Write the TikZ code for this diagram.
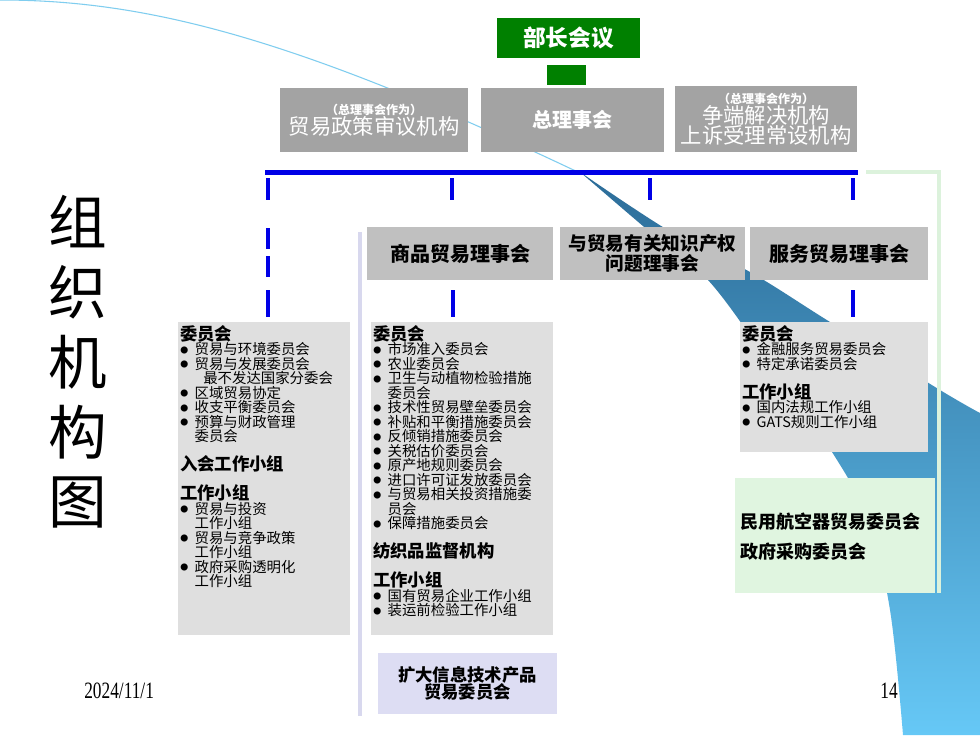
\documentclass[tikz,border=0pt]{standalone}
\usepackage{fontspec}
\usepackage{graphicx}
\setmainfont{Liberation Serif}
\newfontfamily\cjk{Noto Sans CJK SC}
\definecolor{mgreen}{HTML}{008000}
\definecolor{gA}{HTML}{A3A3A3}
\definecolor{gB}{HTML}{C0C0C0}
\definecolor{gC}{HTML}{DFDFDF}
\definecolor{lgreen}{HTML}{E0F5E0}
\definecolor{lav}{HTML}{DDDDF3}
\definecolor{lblue}{HTML}{0000E6}
\definecolor{fgreen}{HTML}{DCF2DC}
\definecolor{lavline}{HTML}{D8D8EE}
\definecolor{thinc}{HTML}{7FCDEF}
\definecolor{wdark}{HTML}{2C6C98}
\definecolor{wmid}{HTML}{4EA6DA}
\definecolor{wlight}{HTML}{66C8F6}
\newcommand\tightlines{\lineskiplimit-20pt\relax\lineskip0pt\relax}
\newcommand\bl{\makebox[1em][l]{\raisebox{0.12em}{\scalebox{0.55}{●}}}}
\newcommand\hd[1]{{\fontsize{13}{10.875}\selectfont\bfseries #1}}
\newcommand\smallhd[1]{{\fontsize{9}{9}\selectfont\bfseries #1}}
\tikzset{
  rectpx/.style 2 args={minimum width=#1*0.75pt, minimum height=#2*0.75pt},
  bx/.style={rectangle, inner sep=0pt, outer sep=0pt},
  topbox/.style={bx, fill=gA, text=white, align=center,
    font=\cjk\fontsize{16}{15}\selectfont\tightlines},
  midbox/.style={bx, fill=gB, text=black, align=center,
    font=\cjk\bfseries\fontsize{15}{15}\selectfont\tightlines},
  listbox/.style={bx, fill=gC},
  listtext/.style={inner sep=0pt, anchor=north west, align=left,
    font=\cjk\fontsize{10.8}{10.875}\selectfont\tightlines},
  blueseg/.style={draw=lblue, line width=3pt},
}
\begin{document}
\begin{tikzpicture}[x=0.75pt,y=-0.75pt]
\useasboundingbox (0,0) rectangle (980,735);
\fill[white] (0,0) rectangle (980,735);

% decorative page-curl band
\shade[top color=wdark, middle color=wmid, bottom color=wlight]
  plot[smooth, tension=0.6] coordinates {(580,172) (671,232) (750,272) (830,322) (940,390) (980,413)}
  -- (980,735) -- (903,735)
  -- plot[smooth, tension=0.6] coordinates {(903,735) (890,610) (868,520) (832,452) (770,364) (708,280) (650,232) (580,172)} -- cycle;
\draw[thinc, line width=0.8pt] (0,0) .. controls (150,0) and (300,40) .. (582,174);

% title
\foreach \c [count=\i from 0] in {组,织,机,构,图}
  \node[inner sep=0pt, font=\cjk\fontsize{44}{44}\selectfont] (title\i) at (78,222+70*\i) {\c};

% top
\node[bx, rectpx={143}{40}, fill=mgreen, text=white, font=\cjk\bfseries\fontsize{17}{17}\selectfont] (mc) at (568.5,38) {部长会议};
\node[bx, rectpx={39}{20}, fill=mgreen] (gsq) at (566.5,75) {};

\node[topbox, rectpx={188}{64}] (tpr) at (374,120)
  {\smallhd{（总理事会作为）}\\贸易政策审议机构};
\node[topbox, rectpx={183}{64}, font=\cjk\bfseries\fontsize{15}{15}\selectfont] (gc) at (572.5,120) {总理事会};
\node[topbox, rectpx={182}{66}] (dsb) at (766,119)
  {\smallhd{（总理事会作为）}\\争端解决机构\\上诉受理常设机构};

% bus lines
\draw[lblue, line width=3.75pt] (265,172) -- (858,172);
\draw[fgreen, line width=3pt] (866,172) -- (939,172) -- (939,593);
\draw[lavline, line width=3pt] (360,232) -- (360,716);
\foreach \x in {268,452,650,853} \draw[blueseg] (\x,178) -- (\x,200);
\draw[blueseg] (268,228) -- (268,249);
\draw[blueseg] (268,256) -- (268,277);
\draw[blueseg] (268,290) -- (268,317);
\draw[blueseg] (453,290) -- (453,317);
\draw[blueseg] (853,290) -- (853,317);

% councils
\node[midbox, rectpx={186}{53}] (goods) at (460,253.5) {商品贸易理事会};
\node[midbox, rectpx={185}{53}, font=\cjk\bfseries\fontsize{14}{14.5}\selectfont\tightlines] (trips) at (652.5,253.5) {与贸易有关知识产权\\问题理事会};
\node[midbox, rectpx={178}{53}] (serv) at (839,253.5) {服务贸易理事会};

% list boxes
\node[listbox, rectpx={172}{313}] (lb) at (264,478.5) {};
\node[listbox, rectpx={182}{313}] (mb) at (462,478.5) {};
\node[listbox, rectpx={188}{130}] (rb) at (834,387) {};
\node[bx, rectpx={200}{115}, fill=lgreen] (gb) at (835,535.5) {};
\node[bx, rectpx={179}{61}, fill=lav, align=center,
  font=\cjk\bfseries\fontsize{13}{12.5}\selectfont\tightlines] (ib) at (467.5,683.5)
  {扩大信息技术产品\\贸易委员会};

\node[listtext] (lt) at (180,325) {\hd{委员会}\\
\bl 贸易与环境委员会\\
\bl 贸易与发展委员会\\
\hspace*{1.6em}最不发达国家分委会\\
\bl 区域贸易协定\\
\bl 收支平衡委员会\\
\bl 预算与财政管理\\
\hspace*{1em}委员会\\
~\\
\hd{入会工作小组}\\
~\\
\hd{工作小组}\\
\bl 贸易与投资\\
\hspace*{1em}工作小组\\
\bl 贸易与竞争政策\\
\hspace*{1em}工作小组\\
\bl 政府采购透明化\\
\hspace*{1em}工作小组};

\node[listtext] (mt) at (373,325) {\hd{委员会}\\
\bl 市场准入委员会\\
\bl 农业委员会\\
\bl 卫生与动植物检验措施\\
\hspace*{1em}委员会\\
\bl 技术性贸易壁垒委员会\\
\bl 补贴和平衡措施委员会\\
\bl 反倾销措施委员会\\
\bl 关税估价委员会\\
\bl 原产地规则委员会\\
\bl 进口许可证发放委员会\\
\bl 与贸易相关投资措施委\\
\hspace*{1em}员会\\
\bl 保障措施委员会\\
~\\
\hd{纺织品监督机构}\\
~\\
\hd{工作小组}\\
\bl 国有贸易企业工作小组\\
\bl 装运前检验工作小组};

\node[listtext] (rt) at (742,325) {\hd{委员会}\\
\bl 金融服务贸易委员会\\
\bl 特定承诺委员会\\
~\\
\hd{工作小组}\\
\bl 国内法规工作小组\\
\bl GATS规则工作小组};

\node[anchor=west, inner sep=0pt, align=left,
  font=\cjk\bfseries\fontsize{13.5}{22.5}\selectfont] (gt) at (740,537)
  {民用航空器贸易委员会\\政府采购委员会};

% footer
\node[anchor=west, inner sep=0pt, font=\fontsize{13}{13}\selectfont] (date) at (84,691) {\scalebox{1}[1.35]{2024/11/1}};
\node[anchor=east, inner sep=0pt, font=\fontsize{13}{13}\selectfont] (pg) at (898,691) {\scalebox{1}[1.35]{14}};
\end{tikzpicture}
\end{document}
